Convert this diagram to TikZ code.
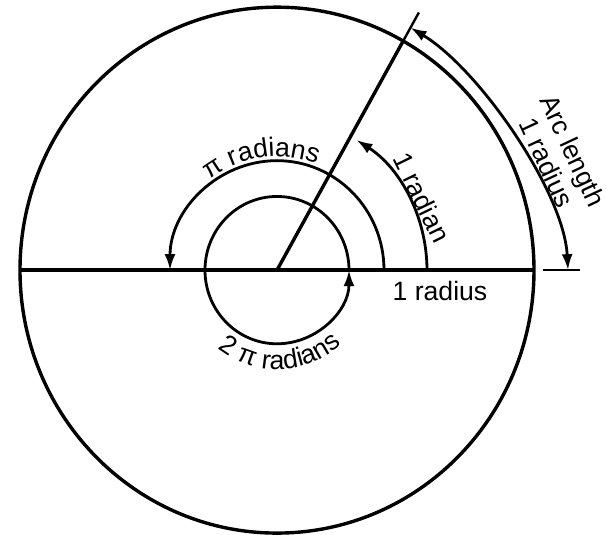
\documentclass[tikz,border=0pt]{standalone}
\usepackage{fontspec}
\setmainfont{Liberation Sans}
\usetikzlibrary{
  arrows.meta,
  decorations.text,
}
\newcommand{\radfont}{\fontsize{13.3}{14.5}\selectfont}

\begin{document}
\begin{tikzpicture}[
  x=0.5pt, y=0.5116pt,
  outline/.style={line width=1.7pt},
  sweep/.style={
    line width=1.4pt, -{Latex[length=8pt,width=5.5pt]},
  },
  arclen/.style={
    line width=1.4pt,
    {Latex[length=8pt,width=5.5pt]}-{Latex[length=8pt,width=5.5pt]},
  },
  tickmark/.style={line width=1.2pt},
  radlabel/.style={font=\radfont, inner sep=1pt},
  curvetext/.style={
    decorate,
    decoration={text along path, text align=center, text={|\radfont|#1}},
  },
]
  \useasboundingbox (-277,-258) rectangle (329,264);

  % --- circle and radii ---
  \coordinate (O) at (0,0);
  \coordinate (W) at (180:257);
  \coordinate (E) at (0:257);
  \coordinate (P) at (60.6:257);
  \draw[outline] (O) circle[radius=257];
  \draw[outline] (W) -- (E);
  \draw[outline] (O) -- (P);

  % --- tick marks ---
  \coordinate (P-out) at (60.6:289);
  \coordinate (E-in)  at (266,0);
  \coordinate (E-out) at (303,0);
  \draw[tickmark] (P) -- (P-out);
  \draw[tickmark] (E-in) -- (E-out);

  % --- angle arcs ---
  \coordinate (one-start) at (0:150);
  \coordinate (pi-start)  at (0:107);
  \coordinate (two-start) at (0:72);
  \draw[sweep] (one-start) arc[start angle=0, end angle=58, radius=150];
  \draw[sweep] (pi-start) arc[start angle=0, end angle=180, radius=107];
  \draw[sweep] (two-start) arc[start angle=0, end angle=360, radius=72];

  % --- arc length ---
  \coordinate (al-top) at (60.6:272);
  \coordinate (al-bot) at (291,0);
  \draw[arclen] (al-top) to[out=-31, in=93, looseness=0.7] (al-bot);

  % --- labels ---
  \node[radlabel] (one-radius) at (163,-20) {1 radius};
  \node[radlabel, rotate=-64] (one-radian) at (145,71) {1 radian};
  \node[radlabel, rotate=-65, align=center] (arc-length) at (283,111)
    {Arc length\\1 radius};
  \path[curvetext={π radians}] (150:111) arc[start angle=150, end angle=46, radius=111];
  \path[curvetext={2 π radians}] (211:97) arc[start angle=211, end angle=333, radius=97];
\end{tikzpicture}
\end{document}
